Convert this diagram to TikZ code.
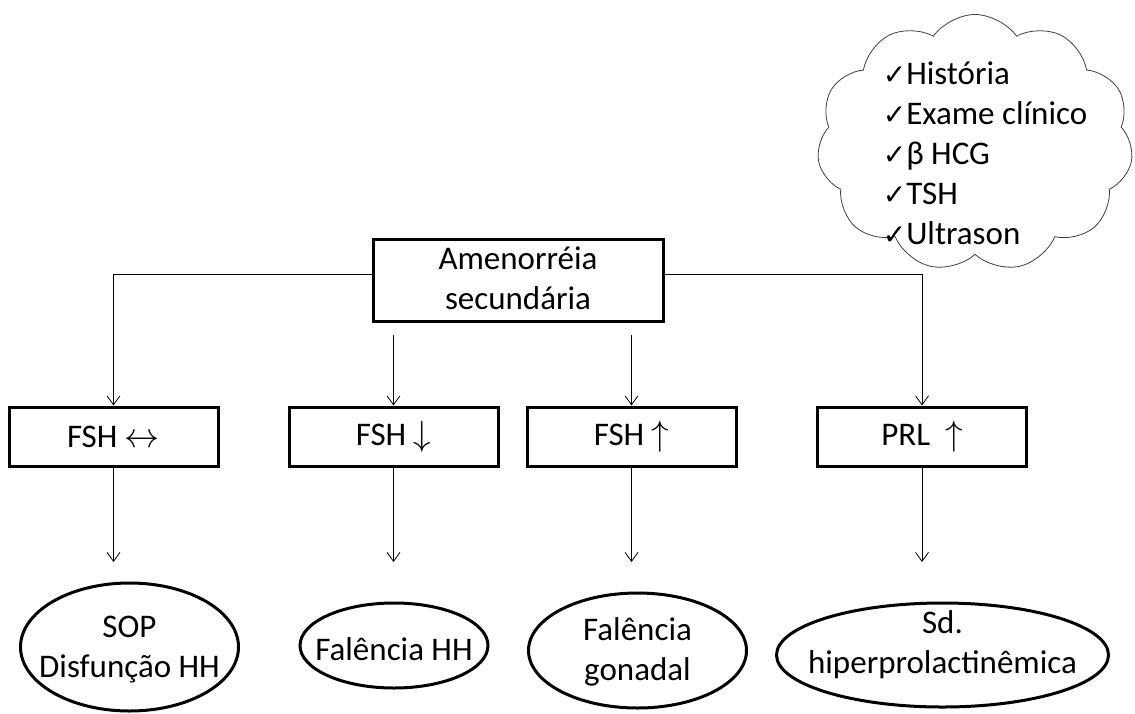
\RequirePackage{fix-cm}
\documentclass[tikz,border=0pt]{standalone}
\usepackage{fontspec}
\setmainfont{Carlito}
\newfontfamily\symfont{DejaVu Sans}
\usetikzlibrary{arrows.meta, shapes.geometric, shapes.symbols, positioning}

\newcommand{\marca}{{\symfont\fontsize{28}{40}\selectfont ✓}}
\newcommand{\seta}[1]{{\fontsize{35}{40}\selectfont$#1$}}

\begin{document}
\begin{tikzpicture}[x=1pt, y=-1pt, on grid, font=\fontsize{33}{40}\selectfont,
    box/.style={rectangle, draw, line width=3pt, minimum width=209pt, minimum height=59pt, inner sep=0pt},
    res/.style={ellipse, draw, line width=3pt, inner sep=0pt},
    conn/.style={line width=0.8pt, -{Straight Barb[length=9pt, width=13pt]}}]

    \useasboundingbox (0,0) rectangle (1135,713);

    % nivel de cima
    \node[box, minimum width=290pt, minimum height=82pt, label={[align=center, yshift=2pt]center:Amenorréia\\secundária}] (amen) at (518,280) {};

    \node[cloud, draw=black!75, line width=0.8pt, cloud puffs=11, cloud puff arc=110, cloud ignores aspect,
        minimum width=316pt, minimum height=257pt, inner sep=0pt,
        label={[align=left, xshift=10pt, yshift=-10pt]center:\marca História\\\marca Exame clínico\\\marca β HCG\\\marca TSH\\\marca Ultrason}] (exames) at (975,143) {};

    % dosagens
    \node[box] (fshn) at (113.5,436.5) {FSH \seta{\leftrightarrow}};
    \node[box, right=280pt of fshn] (fshd) {FSH \seta{\downarrow}};
    \node[box, right=238pt of fshd] (fshu) {FSH \seta{\uparrow}};
    \node[box, right=290.5pt of fshu] (prl) {PRL~~\seta{\uparrow}};

    % diagnosticos
    \node[res, minimum width=218pt, minimum height=128pt, label={[align=center, yshift=-3pt]center:SOP\\Disfunção HH}] (sop) at (129.5,647) {};
    \node[res, minimum width=188pt, minimum height=85pt, label={[yshift=-4pt]center:Falência HH}] (falhh) at (394,645.5) {};
    \node[res, minimum width=218pt, minimum height=115pt, label={[align=center, yshift=-1pt]center:Falência\\gonadal}] (falgon) at (637.5,650.5) {};
    \node[res, minimum width=332pt, minimum height=104pt, label={[align=center, yshift=10pt]center:Sd.\\hiperprolactinêmica}] (hiper) at (942.5,655) {};

    \coordinate[above=101.5pt of fshd] (m2);
    \coordinate[above=101.5pt of fshu] (m3);
    \coordinate[below=125.5pt of fshn] (t1);
    \coordinate[below=125.5pt of fshd] (t2);
    \coordinate[below=125.5pt of fshu] (t3);
    \coordinate[below=125.5pt of prl] (t4);

    \draw[conn] ([yshift=6pt]amen.west) -| (fshn.north);
    \draw[conn] ([yshift=6pt]amen.east) -| (prl.north);
    \path[conn]
    (m2) edge[] (fshd.north)
    (m3) edge[] (fshu.north)
    (fshn.south) edge[] (t1)
    (fshd.south) edge[] (t2)
    (fshu.south) edge[] (t3)
    (prl.south) edge[] (t4);

\end{tikzpicture}
\end{document}
